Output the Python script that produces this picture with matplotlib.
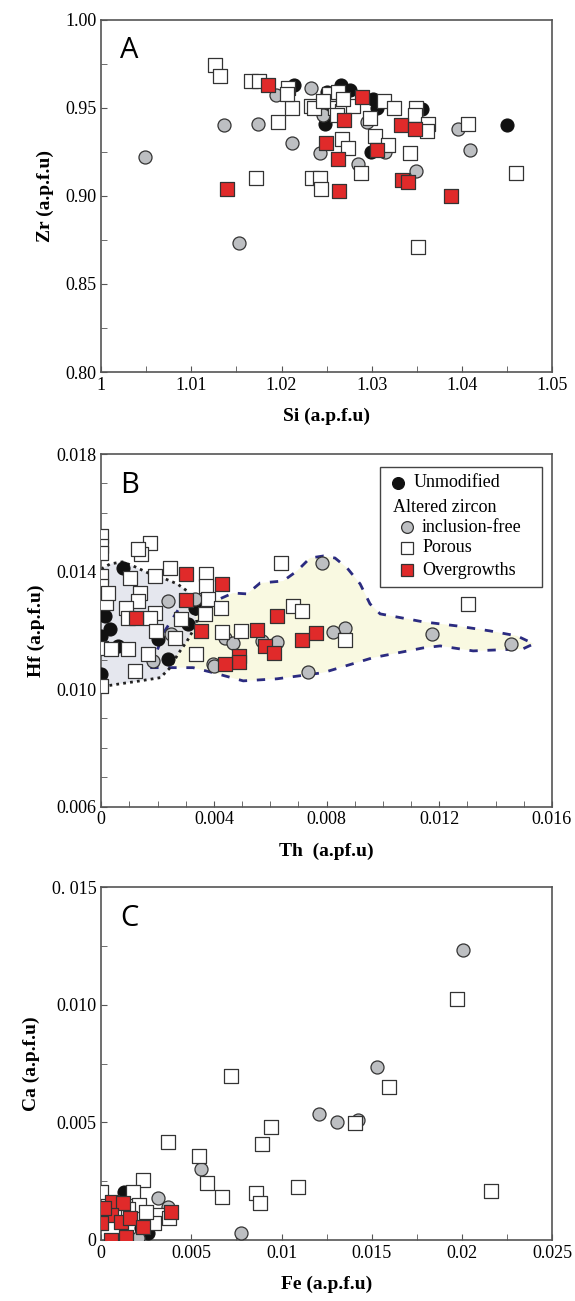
import matplotlib
matplotlib.use("Agg")
import matplotlib.pyplot as plt
from matplotlib.patches import Polygon, Rectangle
from matplotlib.ticker import MultipleLocator, FixedLocator

# ---- Panel A: Si vs Zr ----
a_unmod_si = [1.0214, 1.0266, 1.0276, 1.0250, 1.0302, 1.0306, 1.0356, 1.0248, 1.0299, 1.0450, 1.0246]
a_unmod_zr = [0.963, 0.963, 0.960, 0.959, 0.955, 0.950, 0.949, 0.941, 0.925, 0.940, 0.947]
a_incl_si = [1.0049, 1.0136, 1.0174, 1.0212, 1.0194, 1.0233, 1.0246, 1.0243, 1.0285, 1.0315,
             1.0349, 1.0396, 1.0409, 1.0153, 1.0295]
a_incl_zr = [0.922, 0.940, 0.941, 0.930, 0.957, 0.961, 0.946, 0.924, 0.918, 0.925,
             0.914, 0.938, 0.926, 0.873, 0.942]
a_por_si = [1.0126, 1.0132, 1.0166, 1.0175, 1.0207, 1.0212, 1.0196, 1.0233, 1.0253, 1.0263,
            1.0236, 1.0259, 1.0267, 1.0279, 1.0298, 1.0314, 1.0325, 1.0349, 1.0348, 1.0363,
            1.0304, 1.0318, 1.0343, 1.0267, 1.0274, 1.0407, 1.0460, 1.0172, 1.0234, 1.0243,
            1.0244, 1.0288, 1.0351, 1.0361, 1.0206, 1.0262, 1.0268, 1.0246]
a_por_zr = [0.974, 0.968, 0.965, 0.965, 0.961, 0.950, 0.942, 0.951, 0.958, 0.959,
            0.950, 0.950, 0.948, 0.951, 0.944, 0.954, 0.950, 0.950, 0.946, 0.941,
            0.934, 0.929, 0.924, 0.932, 0.927, 0.941, 0.913, 0.910, 0.910, 0.910,
            0.904, 0.913, 0.871, 0.937, 0.958, 0.946, 0.955, 0.954]
a_over_si = [1.0185, 1.0289, 1.0269, 1.0249, 1.0263, 1.0306, 1.0332, 1.0348, 1.0334, 1.0340,
             1.0139, 1.0264, 1.0388]
a_over_zr = [0.963, 0.956, 0.943, 0.930, 0.921, 0.926, 0.940, 0.938, 0.909, 0.908,
             0.904, 0.903, 0.900]

# ---- Panel B: Th vs Hf ----
b_unmod_th = [0.00078, 0.0, 0.00014, 0.00032, 0.0, 0.0006, 0.0, 0.00202, 0.00238, 0.00309, 0.00333, 0.0]
b_unmod_hf = [0.01412, 0.01307, 0.01249, 0.01205, 0.01181, 0.01147, 0.01052, 0.01171, 0.01103, 0.01222, 0.01276, 0.0128]
b_incl_th = [0.00238, 0.00333, 0.00248, 0.00184, 0.00397, 0.00784, 0.00866, 0.00823, 0.0044, 0.00468,
             0.00571, 0.00624, 0.00734, 0.00401, 0.01174, 0.01455]
b_incl_hf = [0.0130, 0.01307, 0.01188, 0.01096, 0.01086, 0.01429, 0.01209, 0.01195, 0.01174, 0.01157,
             0.01164, 0.0116, 0.01059, 0.01079, 0.01188, 0.01154]
b_por_th = [0.0, 0.0, 0.0, 0.00174, 0.00142, 0.00131, 0.0, 0.0, 0.00103, 0.00192,
            0.00245, 0.00372, 0.00372, 0.00138, 0.00131, 0.00018, 0.00025, 0.00089, 0.00096, 0.00192,
            0.00174, 0.0038, 0.00369, 0.00284, 0.00195, 0.00263, 0.0, 0.00035, 0.00096, 0.00167,
            0.00121, 0.00337, 0.0, 0.00639, 0.00681, 0.00713, 0.00426, 0.00429, 0.00497, 0.00866,
            0.01302]
b_por_hf = [0.01521, 0.01487, 0.01463, 0.01497, 0.0146, 0.01477, 0.01385, 0.01351, 0.01378, 0.01385,
            0.01412, 0.01392, 0.01351, 0.01327, 0.0130, 0.01293, 0.01327, 0.01276, 0.01242, 0.01259,
            0.01242, 0.01307, 0.01256, 0.01239, 0.01198, 0.01174, 0.0114, 0.01137, 0.01137, 0.0112,
            0.01062, 0.0112, 0.01011, 0.01429, 0.01283, 0.01266, 0.01276, 0.01195, 0.01198, 0.01168,
            0.0129]
b_over_th = [0.00124, 0.00302, 0.00302, 0.00355, 0.00429, 0.00624, 0.00553, 0.00582, 0.00614, 0.0049,
             0.0049, 0.0044, 0.00713, 0.00763]
b_over_hf = [0.01242, 0.01392, 0.01304, 0.01198, 0.01358, 0.01249, 0.01202, 0.01147, 0.01124, 0.01113,
             0.01093, 0.01086, 0.01168, 0.01192]

# outlined fields in panel B
field_unmod_th = [0.0, 0.00032, 0.00075, 0.00114, 0.00167, 0.0022, 0.0027, 0.00305, 0.00333, 0.0034,
                  0.00305, 0.00273, 0.00245, 0.0021, 0.00138, 0.00067, 0.0]
field_unmod_hf = [0.01409, 0.01426, 0.01433, 0.01419, 0.01395, 0.01378, 0.01358, 0.01334, 0.01283, 0.01222,
                  0.01164, 0.0112, 0.01073, 0.01039, 0.01028, 0.01018, 0.01008]
field_alt_th = [0.00174, 0.00326, 0.00397, 0.00504, 0.00624, 0.00788, 0.00965, 0.01142, 0.01203, 0.0132,
                0.01497, 0.01535, 0.01476, 0.0138, 0.01263, 0.01142, 0.0099, 0.00954, 0.00919, 0.00873,
                0.0083, 0.00788, 0.00741, 0.00695, 0.00646, 0.00564, 0.00518, 0.00468, 0.00404, 0.0028,
                0.00227]
field_alt_hf = [0.01073, 0.01073, 0.01056, 0.01028, 0.01035, 0.01056, 0.01107, 0.0114, 0.01147, 0.0113,
                0.01137, 0.01154, 0.01181, 0.01198, 0.01215, 0.01229, 0.01256, 0.0129, 0.01358, 0.01412,
                0.01446, 0.01453, 0.01446, 0.01402, 0.01368, 0.01361, 0.01324, 0.01327, 0.01300, 0.0128,
                0.0120]

# ---- Panel C: Fe vs Ca ----
c_unmod_fe = [0.00128, 0.00261, 0.0005, 0.0022]
c_unmod_ca = [0.00205, 0.0003, 0.0013, 0.0005]
c_incl_fe = [0.02006, 0.01206, 0.01306, 0.00556, 0.00778, 0.01528, 0.01422, 0.00317, 0.00372, 0.00206]
c_incl_ca = [0.01232, 0.00537, 0.00503, 0.00303, 0.0003, 0.00737, 0.00511, 0.00179, 0.00141, 0.0001]
c_por_fe = [0.01972, 0.00722, 0.00372, 0.00544, 0.00589, 0.00672, 0.00944, 0.00889, 0.00861, 0.00878,
            0.01094, 0.01406, 0.01594, 0.02161, 0.0, 0.00233, 0.00178, 0.00211, 0.00317, 0.00378,
            0.00294, 0.0015, 0.0025]
c_por_ca = [0.01023, 0.00695, 0.00418, 0.00358, 0.00243, 0.00183, 0.00482, 0.00409, 0.0020, 0.00158,
            0.00226, 0.00499, 0.00652, 0.00209, 0.00205, 0.00256, 0.00205, 0.00149, 0.00107, 0.00094,
            0.00072, 0.0013, 0.0012]
c_over_fe = [0.00061, 0.00122, 0.00056, 0.00111, 0.0, 0.00161, 0.00233, 0.00056, 0.00139, 0.00389, 0.00017]
c_over_ca = [0.00162, 0.00158, 0.00107, 0.00077, 0.00072, 0.00094, 0.00055, 0.0, 0.00013, 0.00119, 0.00136]

BLACK = "#111111"
GRAY = "#bdbfc2"
RED = "#e02a2a"
EDGE = "#333333"
SPINE = "#555555"
SERIF = "Liberation Serif"
MS = 88


def draw_points(ax, unmod, incl, por, over):
    ax.scatter(*unmod, s=MS, marker="o", c=BLACK, edgecolors=BLACK, linewidths=0.8, zorder=3)
    ax.scatter(*incl, s=MS, marker="o", c=GRAY, edgecolors=EDGE, linewidths=0.9, zorder=3)
    ax.scatter(*por, s=MS, marker="s", c="white", edgecolors=EDGE, linewidths=0.9, zorder=4)
    ax.scatter(*over, s=MS, marker="s", c=RED, edgecolors=EDGE, linewidths=0.9, zorder=5)


def style_axes(ax, letter, xlabel, ylabel):
    for sp in ax.spines.values():
        sp.set_color(SPINE)
        sp.set_linewidth(1.2)
    ax.tick_params(which="both", direction="in", colors=SPINE, labelcolor="black",
                   labelsize=13, top=False, right=False)
    ax.tick_params(which="major", length=4)
    ax.tick_params(which="minor", length=4)
    for lab in ax.get_xticklabels() + ax.get_yticklabels():
        lab.set_fontfamily(SERIF)
    ax.set_xlabel(xlabel, fontfamily=SERIF, fontweight="bold", fontsize=14, labelpad=10)
    ax.set_ylabel(ylabel, fontfamily=SERIF, fontweight="bold", fontsize=14, labelpad=8)
    ax.text(0.042, 0.912, letter, transform=ax.transAxes, fontfamily="Open Sans",
            fontsize=21, va="center", ha="left")


fig = plt.figure(figsize=(5.75, 13.01), dpi=100)

# Panel A
axA = fig.add_axes([0.176, 0.714, 0.784, 0.271])
draw_points(axA, (a_unmod_si, a_unmod_zr), (a_incl_si, a_incl_zr),
            (a_por_si, a_por_zr), (a_over_si, a_over_zr))
axA.set_xlim(1.0, 1.05)
axA.set_ylim(0.8, 1.0)
axA.set_xticks([1.0, 1.01, 1.02, 1.03, 1.04, 1.05])
axA.set_xticklabels(["1", "1.01", "1.02", "1.03", "1.04", "1.05"])
axA.xaxis.set_minor_locator(MultipleLocator(0.005))
axA.set_yticks([0.8, 0.85, 0.9, 0.95, 1.0])
axA.set_yticklabels(["0.80", "0.85", "0.90", "0.95", "1.00"])
axA.yaxis.set_minor_locator(MultipleLocator(0.025))
style_axes(axA, "A", "Si (a.p.f.u)", "Zr (a.p.f.u)")

# Panel B
axB = fig.add_axes([0.176, 0.380, 0.784, 0.271])
axB.add_patch(Polygon(list(zip(field_alt_th, field_alt_hf)), closed=True,
                      facecolor="#f9f9e1", edgecolor="none", zorder=1))
axB.add_patch(Polygon(list(zip(field_unmod_th, field_unmod_hf)), closed=True,
                      facecolor="#dfe1ea", edgecolor="none", alpha=0.8, zorder=1.5))
axB.add_patch(Polygon(list(zip(field_alt_th, field_alt_hf)), closed=True,
                      facecolor="none", edgecolor="#2b2b80", linewidth=2.0,
                      linestyle=(0, (3, 3.5)), zorder=2))
axB.add_patch(Polygon(list(zip(field_unmod_th, field_unmod_hf)), closed=False,
                      facecolor="none", edgecolor="#222222", linewidth=2.0,
                      linestyle=(0, (1, 1.5)), zorder=2))
draw_points(axB, (b_unmod_th, b_unmod_hf), (b_incl_th, b_incl_hf),
            (b_por_th, b_por_hf), (b_over_th, b_over_hf))
axB.set_xlim(0, 0.016)
axB.set_ylim(0.006, 0.018)
axB.set_xticks([0, 0.004, 0.008, 0.012, 0.016])
axB.set_xticklabels(["0", "0.004", "0.008", "0.012", "0.016"])
axB.xaxis.set_minor_locator(MultipleLocator(0.001))
axB.set_yticks([0.006, 0.010, 0.014, 0.018])
axB.set_yticklabels(["0.006", "0.010", "0.014", "0.018"])
axB.yaxis.set_minor_locator(MultipleLocator(0.001))
style_axes(axB, "B", "Th  (a.pf.u)", "Hf (a.p.f.u)")

# legend box drawn by hand so the sub-entries can be indented
axB.add_patch(Rectangle((0.619, 0.623), 0.359, 0.340, transform=axB.transAxes,
                        facecolor="white", edgecolor="#444444", linewidth=1.0, zorder=6))
leg_items = [
    (0.659, 0.918, "o", BLACK, BLACK, 0.692, "Unmodified"),
    (None, 0.847, None, None, None, 0.647, "Altered zircon"),
    (0.678, 0.793, "o", GRAY, EDGE, 0.712, "inclusion-free"),
    (0.678, 0.734, "s", "white", EDGE, 0.712, "Porous"),
    (0.678, 0.671, "s", RED, EDGE, 0.712, "Overgrowths"),
]
for mx, my, mk, fc, ec, tx, label in leg_items:
    if mk is not None:
        axB.plot([mx], [my], marker=mk, markersize=8.5, markerfacecolor=fc,
                 markeredgecolor=ec, markeredgewidth=0.9, linestyle="none",
                 transform=axB.transAxes, zorder=7, clip_on=False)
    axB.text(tx, my, label, transform=axB.transAxes, fontfamily=SERIF, fontsize=13,
             va="center", ha="left", zorder=7)

# Panel C
axC = fig.add_axes([0.176, 0.047, 0.784, 0.271])
draw_points(axC, (c_unmod_fe, c_unmod_ca), (c_incl_fe, c_incl_ca),
            (c_por_fe, c_por_ca), (c_over_fe, c_over_ca))
axC.set_xlim(0, 0.025)
axC.set_ylim(0, 0.015)
axC.set_xticks([0, 0.005, 0.01, 0.015, 0.02, 0.025])
axC.set_xticklabels(["0", "0.005", "0.01", "0.015", "0.02", "0.025"])
axC.xaxis.set_minor_locator(MultipleLocator(0.0025))
axC.set_yticks([0, 0.005, 0.010, 0.015])
axC.set_yticklabels(["0", "0.005", "0.010", "0. 015"])
axC.yaxis.set_minor_locator(MultipleLocator(0.0025))
style_axes(axC, "C", "Fe (a.p.f.u)", "Ca (a.p.f.u)")

fig.savefig("out.png", dpi=100)
